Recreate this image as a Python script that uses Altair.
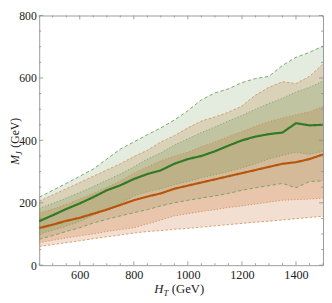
import altair as alt
import pandas as pd

# H_T values (GeV)
HT = [450, 500, 550, 600, 650, 700, 750, 800, 850, 900, 950, 1000,
      1050, 1100, 1150, 1200, 1250, 1300, 1350, 1400, 1450, 1500]

# green sample: median, inner band, outer band
green_med = [141, 160, 180, 198, 218, 240, 256, 276, 292, 304, 325, 340,
             350, 365, 383, 400, 412, 420, 425, 455, 448, 450]
green_inner_lo = [100, 112, 125, 140, 160, 178, 198, 222, 235, 245, 258, 268,
                  280, 290, 300, 312, 325, 340, 352, 362, 355, 365]
green_inner_hi = [182, 198, 215, 233, 252, 272, 292, 315, 340, 360, 385, 405,
                  425, 443, 462, 480, 500, 518, 535, 555, 570, 590]
green_outer_lo = [83, 95, 108, 120, 135, 147, 158, 168, 178, 190, 200, 208,
                  215, 222, 230, 240, 248, 255, 262, 248, 268, 270]
green_outer_hi = [218, 240, 262, 285, 308, 340, 372, 395, 418, 440, 465, 495,
                  530, 552, 565, 585, 598, 605, 640, 666, 682, 702]

# orange sample: median, inner band, outer band
orange_med = [119, 130, 142, 152, 165, 178, 193, 208, 220, 230, 245, 255,
              265, 275, 285, 295, 305, 315, 325, 330, 340, 355]
orange_inner_lo = [72, 80, 87, 94, 100, 108, 114, 120, 132, 145, 158, 165,
                   172, 178, 185, 190, 196, 202, 208, 210, 212, 215]
orange_inner_hi = [167, 180, 195, 212, 230, 250, 270, 295, 315, 335, 350, 362,
                   380, 395, 412, 428, 445, 460, 472, 482, 492, 508]
orange_outer_lo = [60, 66, 72, 78, 85, 91, 97, 103, 108, 111, 115, 118,
                   122, 126, 130, 134, 138, 141, 145, 149, 153, 157]
orange_outer_hi = [205, 225, 245, 265, 285, 305, 325, 348, 368, 395, 415, 440,
                   462, 475, 490, 510, 545, 570, 588, 582, 605, 645]

x_labels = [600, 800, 1000, 1200, 1400]
y_labels = [0, 200, 400, 600, 800]
x_minor = [450, 500, 550, 650, 700, 750, 850, 900, 950, 1050, 1100, 1150,
           1250, 1300, 1350, 1450, 1500]
y_minor = [50, 100, 150, 250, 300, 350, 450, 500, 550, 650, 700, 750]

W, H = 291, 256
SERIF = "Liberation Serif"

df = pd.DataFrame({
    "ht": HT,
    "gm": green_med, "gil": green_inner_lo, "gih": green_inner_hi,
    "gol": green_outer_lo, "goh": green_outer_hi,
    "om": orange_med, "oil": orange_inner_lo, "oih": orange_inner_hi,
    "ool": orange_outer_lo, "ooh": orange_outer_hi,
})

xs = alt.Scale(domain=[450, 1500], nice=False, zero=False)
ys = alt.Scale(domain=[0, 800], nice=False, zero=False)
xaxis = alt.Axis(values=x_labels, ticks=False, domain=False, grid=False,
                 labelFont=SERIF, labelFontSize=12.5, labelColor="#222",
                 labelPadding=4, labelFlush=False, format="d", title=None)
yaxis = alt.Axis(values=y_labels, ticks=False, domain=False, grid=False,
                 labelFont=SERIF, labelFontSize=12, labelColor="#222",
                 labelPadding=3, labelFlush=False, format="d", title=None)


def X(f):
    return alt.X(f, type="quantitative", scale=xs, axis=xaxis, title=None)


def Y(f):
    return alt.Y(f, type="quantitative", scale=ys, axis=yaxis, title=None)


base = alt.Chart(df)

GREEN = "#4f8a3a"
ORANGE = "#c86a25"


def band(lo, hi, color, op):
    return base.mark_area(color=color, opacity=op).encode(
        x=X("ht"), y=Y(lo), y2=alt.Y2(hi))


def edge(f, color, dash, width=0.9):
    return base.mark_line(color=color, strokeDash=dash, strokeWidth=width).encode(
        x=X("ht"), y=Y(f))


layers = [
    band("ool", "ooh", ORANGE, 0.21),
    band("gol", "goh", GREEN, 0.16),
    band("oil", "oih", ORANGE, 0.21),
    band("gil", "gih", GREEN, 0.18),
    edge("goh", "#6f9e60", [3.5, 2.5]),
    edge("gol", "#6f9e60", [3.5, 2.5]),
    edge("gih", "#7aa368", [1.2, 2]),
    edge("gil", "#7aa368", [1.2, 2]),
    edge("ooh", "#d8955c", [2.5, 2]),
    edge("ool", "#d8955c", [2.5, 2]),
    edge("oih", "#d28a52", [1.2, 2]),
    edge("oil", "#d28a52", [1.2, 2]),
    edge("gm", "#2f7a22", [1, 0], 2.2),
    edge("om", "#b5560c", [1, 0], 2.2),
]

TICK = "#8a8a8a"


def xticks(vals, ln):
    d = alt.Chart(pd.DataFrame({"v": vals}))
    bot = d.mark_rule(color=TICK, strokeWidth=0.8).encode(
        x=X("v"), y=alt.value(H), y2=alt.value(H - ln))
    top = d.mark_rule(color=TICK, strokeWidth=0.8).encode(
        x=X("v"), y=alt.value(0), y2=alt.value(ln))
    return [bot, top]


def yticks(vals, ln):
    d = alt.Chart(pd.DataFrame({"v": vals}))
    lft = d.mark_rule(color=TICK, strokeWidth=0.8).encode(
        y=Y("v"), x=alt.value(0), x2=alt.value(ln))
    rgt = d.mark_rule(color=TICK, strokeWidth=0.8).encode(
        y=Y("v"), x=alt.value(W), x2=alt.value(W - ln))
    return [lft, rgt]


layers += xticks(x_labels, 4) + xticks(x_minor, 2)
layers += yticks(y_labels, 4) + yticks(y_minor, 2)


def label(s, x, y, size=13, italic=False, angle=0):
    return alt.Chart(pd.DataFrame({"t": [s]})).mark_text(
        font=SERIF, fontSize=size, fontStyle="italic" if italic else "normal",
        color="#222", align="left", baseline="alphabetic", angle=angle
    ).encode(text="t:N", x=alt.value(x), y=alt.value(y))


# axis titles
layers += [
    label("M", -20.5, 153, 12, True, 270),
    label("J", -18, 143, 8.5, True, 270),
    label("(GeV)", -20.5, 135.5, 12, False, 270),
    label("H", 118, 285, 13, True),
    label("T", 127.5, 288, 9, True),
    label("(GeV)", 136, 285, 13, False),
]

chart = alt.layer(*layers).properties(
    width=W, height=H,
    autosize=alt.AutoSizeParams(type="none"),
    padding={"left": 32, "top": 4, "right": 1, "bottom": 33},
).configure_view(stroke="#9a9a9a", strokeWidth=1)

chart.save("out.html", embed_options={"renderer": "svg", "actions": False})
